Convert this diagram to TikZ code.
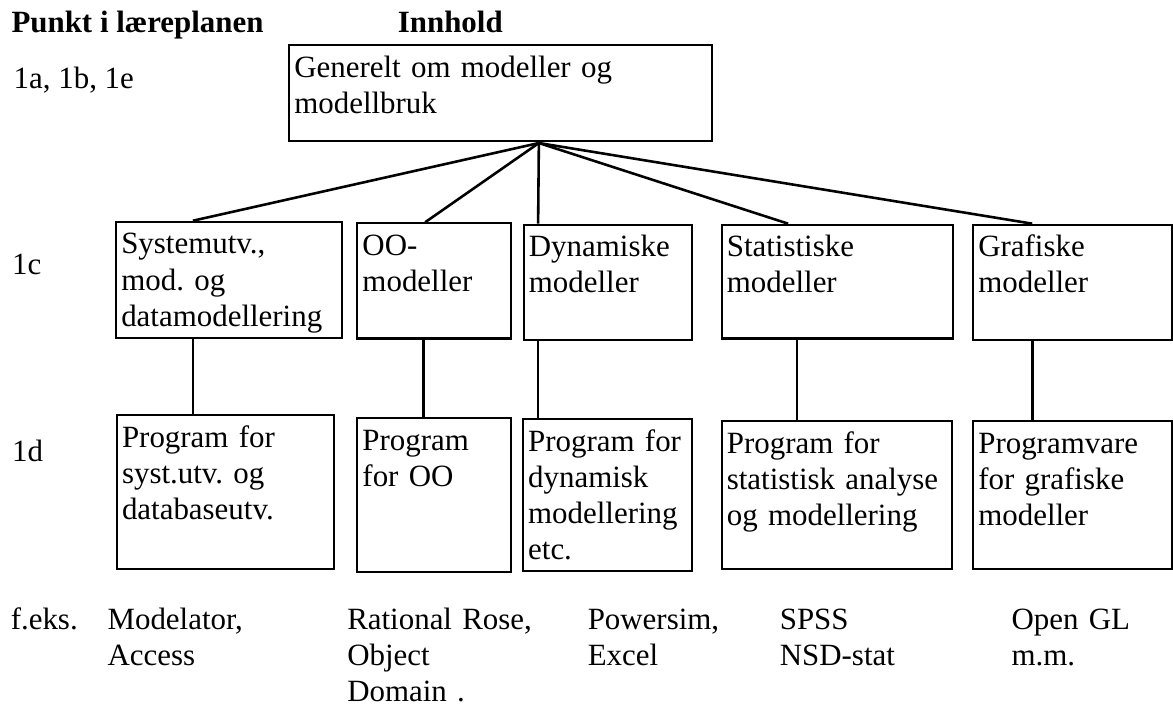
\documentclass[tikz,border=0pt]{standalone}
\usepackage{fontspec}
\setmainfont{Liberation Serif}
\usepackage{tikz}
\frenchspacing

\begin{document}
\begin{tikzpicture}[
            font=\fontsize{12}{14}\selectfont,
            box/.style={draw, line width=.8pt, anchor=north west, align=left, inner xsep=2pt, inner ysep=3.5pt, text height=9pt},
            note/.style={anchor=base west, inner sep=0pt, align=left},
            link/.style={line width=1pt}
            ]
            \useasboundingbox (0,0) rectangle (16,9.671);

            % Headings and row labels
            \node[note] (hpunkt) at (0.15,9.23) {\textbf{Punkt i læreplanen}};
            \node[note] (hinnhold) at (5.42,9.23) {\textbf{Innhold}};
            \node[note] (r1) at (0.18,8.47) {1a, 1b, 1e};
            \node[note] (r2) at (0.16,5.92) {1c};
            \node[note] (r3) at (0.16,3.37) {1d};

            % Top box
            \node[box, text width=5.63cm, text depth=0.75cm] (top) at (3.93,9.07) {Generelt om modeller og\\modellbruk};
            \coordinate (hub) at (7.35,7.72);

            % Kinds of models
            \node[box, text width=2.94cm, text depth=1.02cm] (sys) at (1.57,6.66) {Systemutv.,\\mod. og\\datamodellering};
            \node[box, text width=1.95cm, text depth=1.01cm] (oo) at (4.86,6.64) {OO-\\modeller};
            \node[box, text width=2.15cm, text depth=1.01cm] (dyn) at (7.13,6.62) {Dynamiske\\modeller};
            \node[box, text width=3.01cm, text depth=0.99cm] (stat) at (9.83,6.62) {Statistiske\\modeller};
            \node[box, text width=2.57cm, text depth=1.01cm] (graf) at (13.26,6.62) {Grafiske\\modeller};

            % Programs
            \node[box, text width=2.82cm, text depth=1.54cm] (psys) at (1.58,4.02) {Program for\\syst.utv. og\\databaseutv.};
            \node[box, text width=1.95cm, text depth=1.54cm] (poo) at (4.86,3.98) {Program\\for OO};
            \node[box, text width=2.17cm, text depth=1.51cm] (pdyn) at (7.12,3.97) {Program for\\dynamisk\\modellering\\etc.};
            \node[box, text width=3.00cm, text depth=1.46cm] (pstat) at (9.83,3.94) {Program for\\statistisk analyse\\og modellering};
            \node[box, text width=2.57cm, text depth=1.46cm] (pgraf) at (13.26,3.94) {Programvare\\for grafiske\\modeller};

            % Examples
            \node[note] (feks) at (0.14,1.08) {f.eks.};
            \node[note, text width=3.2cm] (exsys) at (1.46,1.08) {Modelator,\\Access};
            \node[note, text width=3.2cm] (exoo) at (4.73,1.08) {Rational Rose,\\Object\\Domain .};
            \node[note, text width=2.5cm] (exdyn) at (8.01,1.08) {Powersim,\\Excel};
            \node[note, text width=2.5cm] (exstat) at (10.63,1.08) {SPSS\\NSD-stat};
            \node[note, text width=2.0cm] (exgraf) at (13.79,1.08) {Open GL\\m.m.};

            % Lines
            \draw[link] (hub) -- (sys.north -| 2.63,0);
            \draw[link] (hub) -- (oo.north -| 5.80,0);
            \draw[link] (hub) -- (dyn.north -| 7.34,0);
            \draw[link] (hub) -- (stat.north -| 10.75,0);
            \draw[link] (hub) -- (graf.north -| 14.08,0);
            \draw[link] (sys.south -| 2.63,0) -- (psys.north -| 2.63,0);
            \draw[link] (oo.south -| 5.78,0) -- (poo.north -| 5.78,0);
            \draw[link] (dyn.south -| 7.34,0) -- (pdyn.north -| 7.34,0);
            \draw[link] (stat.south -| 10.87,0) -- (pstat.north -| 10.87,0);
            \draw[link] (graf.south -| 14.08,0) -- (pgraf.north -| 14.08,0);
        \end{tikzpicture}
\end{document}
